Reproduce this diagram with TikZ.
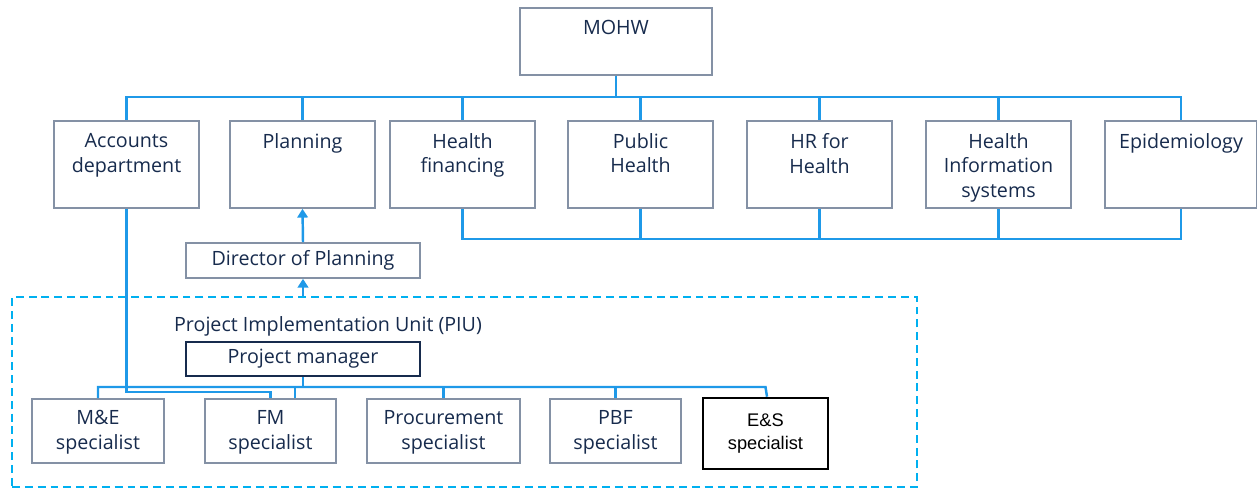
\documentclass[tikz,border=0pt]{standalone}
\usepackage{fontspec}
\setmainfont{Open Sans}
\newfontfamily\arialfont{Liberation Sans}
\usetikzlibrary{arrows.meta}

\definecolor{linea}{RGB}{31,153,232}
\definecolor{guiones}{RGB}{0,176,240}
\definecolor{borde}{RGB}{132,145,165}
\definecolor{texto}{RGB}{23,43,77}

\begin{document}
\begin{tikzpicture}[x=0.02cm, y=-0.02cm,
    caja/.style={draw=borde, line width=0.9pt, text=texto, inner sep=0pt,
      align=center, font=\fontsize{11.2}{14.2}\selectfont},
    unidad/.style={caja, minimum width=2.9cm, minimum height=1.74cm},
    espec/.style={caja, minimum height=1.28cm},
    titulo/.style={anchor=north, align=center, inner sep=0pt, yshift=-0.25cm,
      text=texto, font=\fontsize{11.2}{14.2}\selectfont},
    enlace/.style={draw=linea, line width=1.4pt},
    flecha/.style={enlace, -{Triangle[length=5pt, width=6pt]}}
  ]
  \useasboundingbox (0,0) rectangle (1257,489);

  % Ministerio
  \node[caja, minimum width=3.84cm, minimum height=1.34cm] (mohw) at (616,41.5) {};
  \node[titulo] (mohw-t) at (mohw.north) {MOHW};

  % Departamentos
  \foreach \n/\x/\t in {acc/126.5/{Accounts\\department}, plan/302.5/Planning,
      hfin/462.5/{Health\\financing}, ph/640.5/{Public\\Health},
      hr/819.5/{HR for\\Health}, his/998.5/{Health\\Information\\systems}} {
    \node[unidad] (\n) at (\x,164.5) {};
    \node[titulo] (\n-t) at (\n.north) {\t};
  }
  \node[unidad, minimum width=3.04cm] (epi) at (1181,164.5) {};
  \node[titulo] (epi-t) at (epi.north) {Epidemiology};

  % Barra superior
  \coordinate (barra) at (616,97);
  \foreach \n in {acc,plan,hfin,ph,hr,his,epi}
    \draw[enlace] (mohw.south) -- (mohw.south |- barra) -| (\n.north);

  % Barra inferior
  \coordinate (barrab) at (616,239);
  \draw[enlace] (hfin.south) |- (epi.south |- barrab) -- (epi.south);
  \foreach \n in {ph,hr,his}
    \draw[enlace] (\n.south) -- (\n.south |- barrab);

  % Director y PIU
  \node[caja, minimum width=4.68cm, minimum height=0.7cm] (dir) at (303,260.5) {\strut Director of Planning};
  \draw[flecha] (dir.north) -- (plan.south);

  \node[draw=guiones, line width=1.2pt, dash pattern=on 4.5pt off 2.8pt,
    minimum width=18.1cm, minimum height=3.8cm, inner sep=0pt] (piu) at (464.5,392) {};
  \draw[flecha] (dir.south |- piu.north) -- (dir.south);

  \node[text=texto, font=\fontsize{11.2}{14.2}\selectfont, inner sep=0pt] (piu-t) at (328,326)
    {Project Implementation Unit (PIU)};
  \node[caja, draw=texto, minimum width=4.68cm, minimum height=0.68cm] (pm) at (303,359) {\strut Project manager};

  % Especialistas
  \foreach \n/\x/\w/\t in {me/98/2.64/{M\&E\\specialist}, fm/270.5/2.62/{FM\\specialist},
      proc/443.5/3.06/{Procurement\\specialist}, pbf/615.5/2.62/{PBF\\specialist}}
    \node[espec, minimum width=\w cm] (\n) at (\x,431) {\strut\t};
  \node[draw=black, line width=1.5pt, minimum width=2.5cm, minimum height=1.42cm,
    align=center, inner sep=0pt, font=\arialfont\fontsize{10.4}{12.9}\selectfont] (es) at (765.5,433.5)
    {E\&S\\specialist};

  \coordinate (barrapm) at (303,387);
  \draw[enlace] (pm.south) -- (barrapm);
  \draw[enlace] (me.north) |- (es.north |- barrapm) -- ([xshift=0.03cm]es.north);
  \draw[enlace] ([xshift=0.49cm]fm.north) -- ([xshift=0.49cm]fm.north |- barrapm);
  \foreach \n in {proc,pbf}
    \draw[enlace] (\n.north) -- (\n.north |- barrapm);

  % Linea de contabilidad
  \draw[enlace] (acc.south) |- ([yshift=0.12cm]fm.north) -- (fm.north);

\end{tikzpicture}
\end{document}
